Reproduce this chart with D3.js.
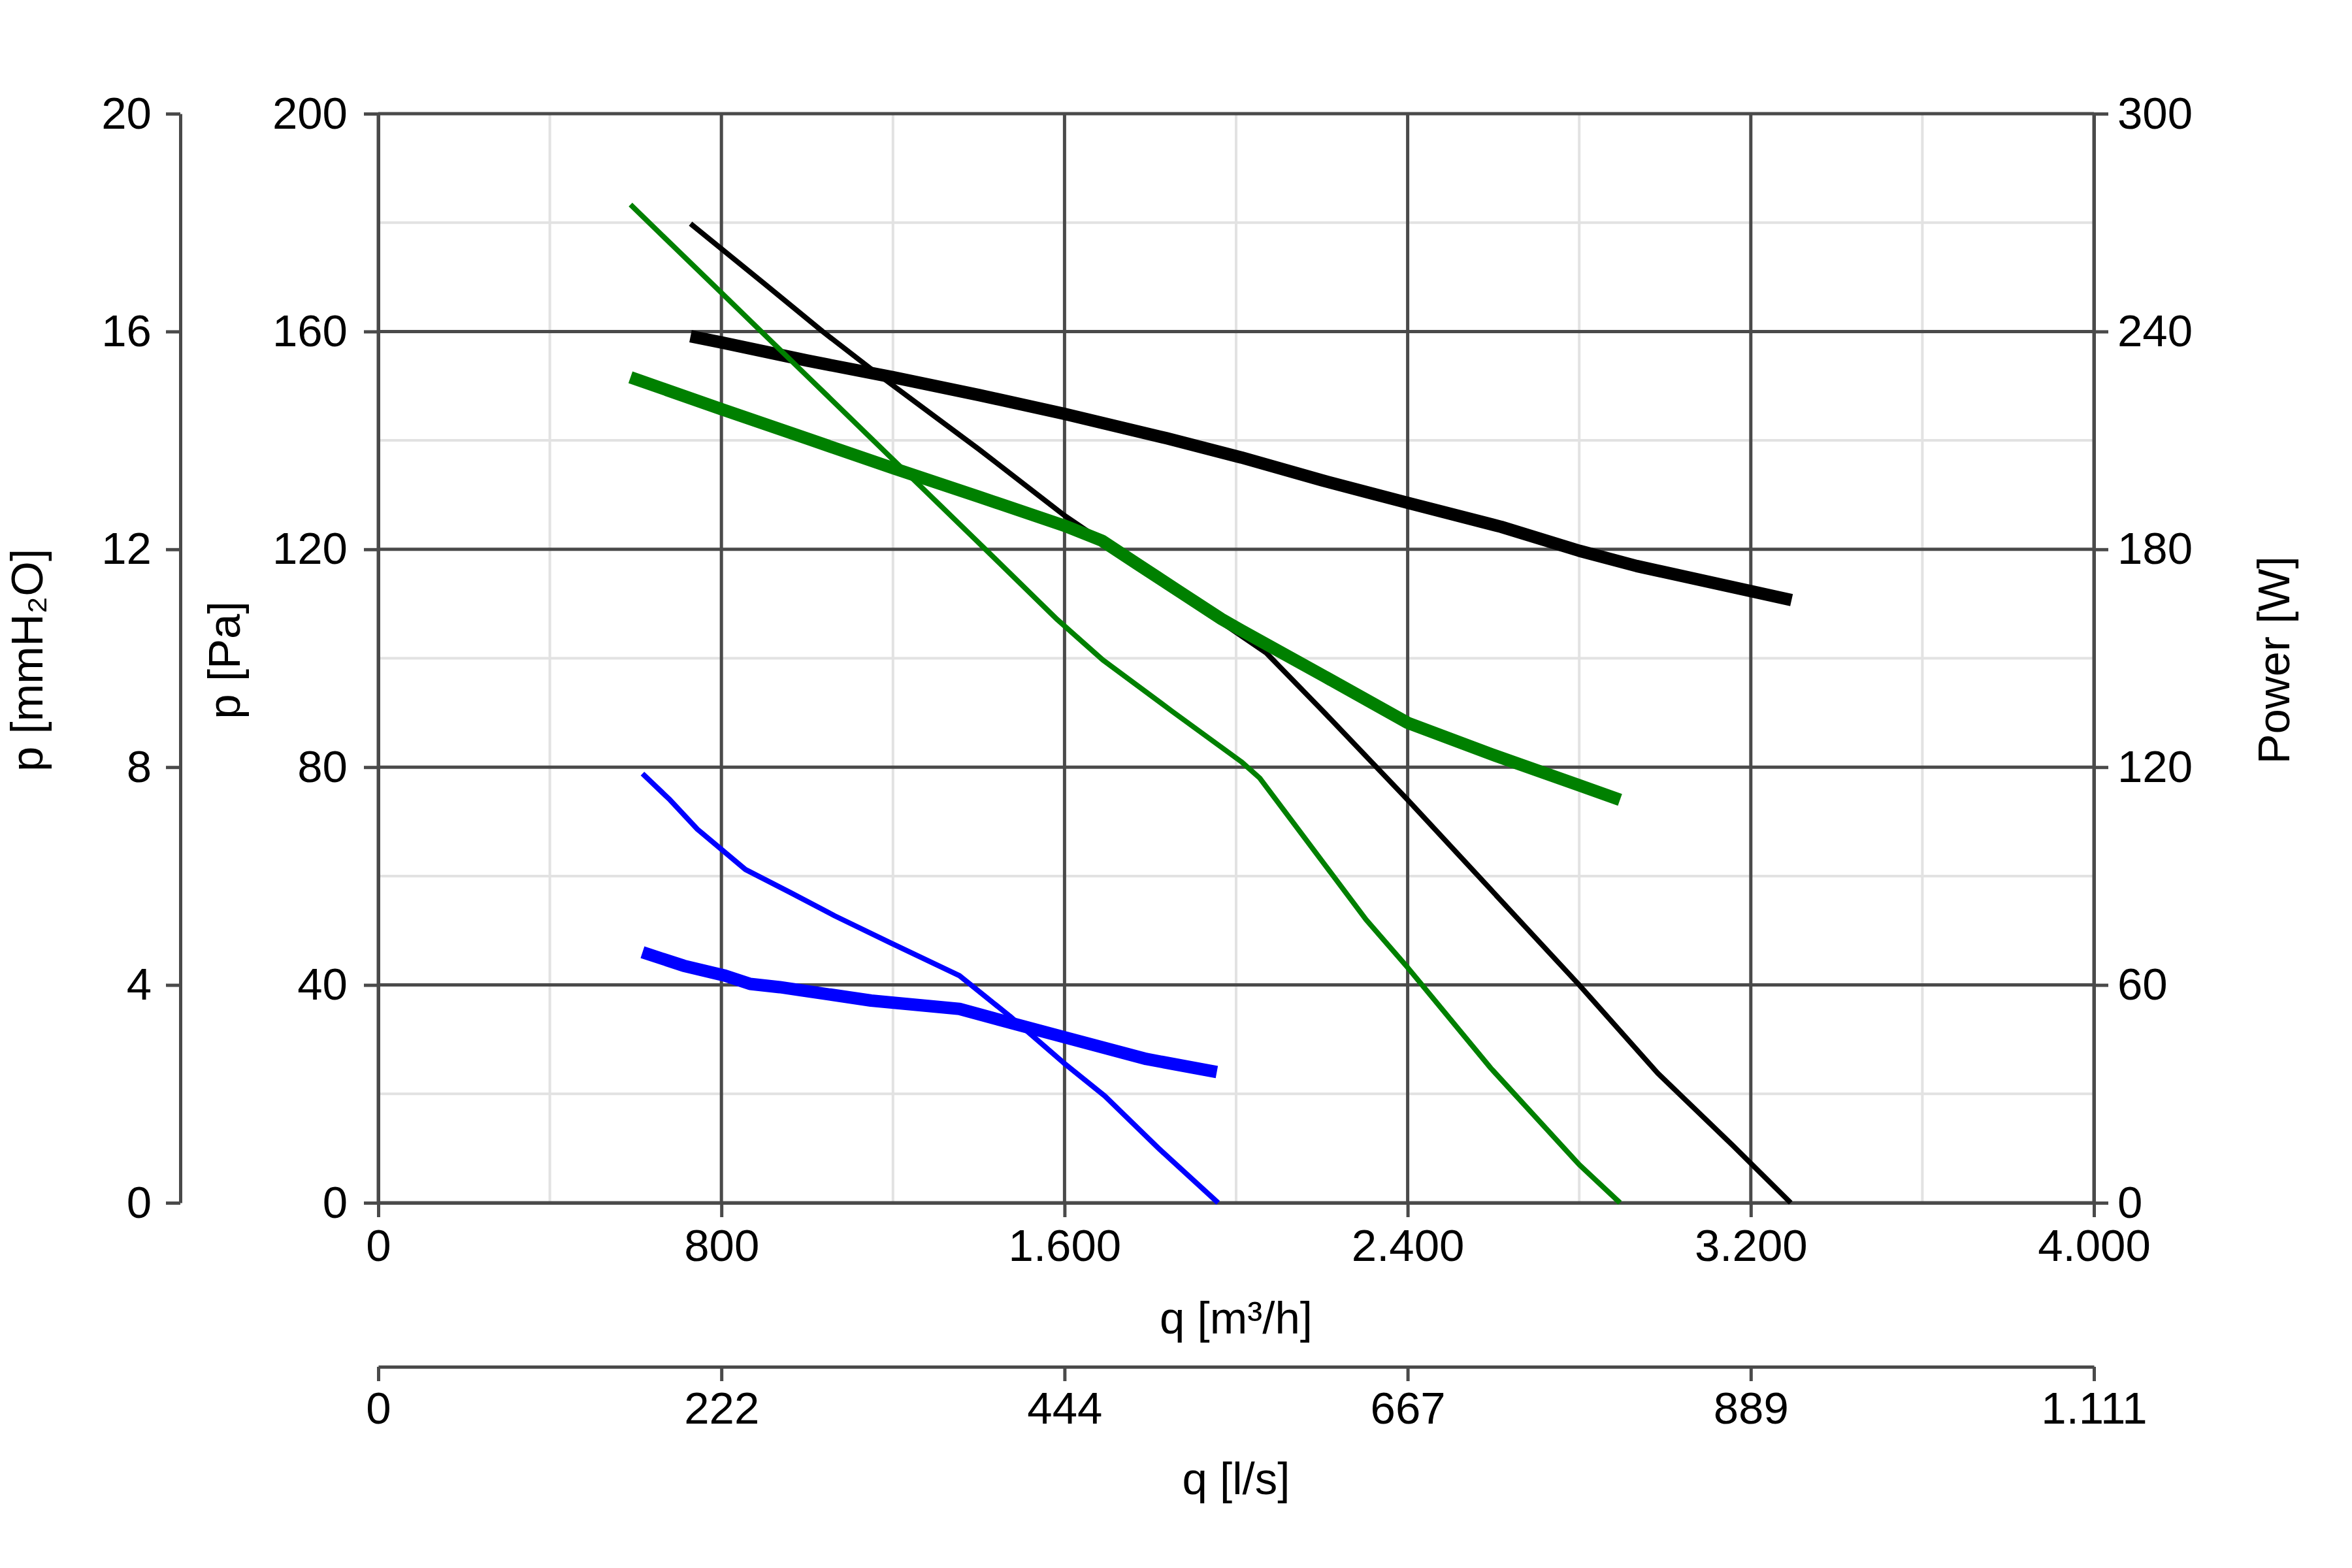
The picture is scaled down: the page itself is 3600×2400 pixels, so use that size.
<!DOCTYPE html>
<html>
<head>
<meta charset="utf-8">
<script src="https://cdn.jsdelivr.net/npm/d3@7"></script>
<style>
  html, body { margin: 0; padding: 0; background: #fff; }
  svg { display: block; }
  text { font-family: "Liberation Sans", Arial, "DejaVu Sans", sans-serif; fill: #000; }
</style>
</head>
<body>
<svg id="chart" width="3600" height="2400"></svg>
<script>
// ---------------- data ----------------
const qTicks   = [0, 800, 1600, 2400, 3200, 4000];          // m³/h
const qMinor   = [400, 1200, 2000, 2800, 3600];
const paTicks  = [0, 40, 80, 120, 160, 200];                // Pa
const paMinor  = [20, 60, 100, 140, 180];
const wTicks   = [0, 60, 120, 180, 240, 300];               // W
const mmTicks  = [0, 4, 8, 12, 16, 20];                     // mmH2O
const lsTicks  = [0, 222.22, 444.44, 666.67, 888.89, 1111.11]; // l/s

// pressure curves [q m³/h, p Pa]
const blackPressure = [[728,179.8],[900,168.8],[1036,160],[1164,152.2],[1400,138.4],[1600,126.2],[1800,115.5],[2070,101],[2200,90.5],[2400,74],[2600,57],[2800,40],[2983,23.8],[3157,10.6],[3293,0]];
const greenPressure = [[588,183.3],[800,167.1],[1000,151.8],[1200,136.5],[1400,121.2],[1583,107.1],[1689,99.7],[1850,90.3],[2012,81],[2055,78],[2303,52],[2400,43.2],[2594,24.7],[2800,7],[2895,0]];
const bluePressure  = [[616,78.8],[680,74],[744,68.6],[856,61.2],[960,57],[1064,52.7],[1195,47.7],[1355,41.7],[1472,34.3],[1598,25.7],[1694,19.6],[1822,9.8],[1958,0]];

// power curves [q m³/h, P W]
const blackPower = [[728,238.7],[800,237],[1000,232],[1200,227.4],[1400,222.5],[1600,217.3],[1838,210.6],[2012,205.3],[2200,199],[2400,192.8],[2618,186.2],[2800,179.6],[2934,175.4],[3200,168.5],[3295,166]];
const greenPower = [[588,227.4],[800,218.6],[1000,210.5],[1199,202.4],[1400,194.5],[1600,186.5],[1687,182.4],[1769,176],[1870,168.2],[1966,160.8],[2012,157.7],[2206,145],[2400,132.2],[2594,123.6],[2800,115],[2895,111]];
const bluePower  = [[616,69],[712,65.3],[808,62.6],[867,60.3],[936,59.4],[1149,55.7],[1355,53.4],[1483,49.3],[1600,45.6],[1791,39.6],[1955,36]];

// ---------------- layout ----------------
const L = 579, R = 3205, T = 174, B = 1841;
const FS = 69;
const TICK = 22;
const MAJOR = "#4a4a4a", MINOR = "#e2e2e2";

const svg = d3.select("#chart");

const x   = d3.scaleLinear().domain([0, 4000]).range([L, R]);
const xLs = d3.scaleLinear().domain([0, 4000 / 3.6]).range([L, R]);
const yPa = d3.scaleLinear().domain([0, 200]).range([B, T]);
const yW  = d3.scaleLinear().domain([0, 300]).range([B, T]);
const yMm = d3.scaleLinear().domain([0, 20]).range([B, T]);

const loc = d3.formatLocale({decimal: ",", thousands: ".", grouping: [3], currency: ["", "€"]});
const fmt = loc.format(",.0f");

// ---------------- grid ----------------
const grid = svg.append("g");
grid.selectAll(".vminor").data(qMinor).join("line")
  .attr("x1", d => x(d)).attr("x2", d => x(d)).attr("y1", T).attr("y2", B)
  .attr("stroke", MINOR).attr("stroke-width", 4);
grid.selectAll(".hminor").data(paMinor).join("line")
  .attr("x1", L).attr("x2", R).attr("y1", d => yPa(d)).attr("y2", d => yPa(d))
  .attr("stroke", MINOR).attr("stroke-width", 4);
grid.selectAll(".vmajor").data(qTicks).join("line")
  .attr("x1", d => x(d)).attr("x2", d => x(d)).attr("y1", T).attr("y2", B)
  .attr("stroke", MAJOR).attr("stroke-width", 5);
grid.selectAll(".hmajor").data(paTicks).join("line")
  .attr("x1", L).attr("x2", R).attr("y1", d => yPa(d)).attr("y2", d => yPa(d))
  .attr("stroke", MAJOR).attr("stroke-width", 5);

// ---------------- axes ----------------
function styleAxis(g) {
  g.selectAll("path.domain").attr("stroke", MAJOR).attr("stroke-width", 5);
  g.selectAll(".tick line").attr("stroke", MAJOR).attr("stroke-width", 5);
  g.selectAll(".tick text").attr("font-size", FS).attr("fill", "#000")
    .attr("font-family", '"Liberation Sans", Arial, sans-serif');
}

const axPa = svg.append("g").attr("transform", `translate(${L},0)`)
  .call(d3.axisLeft(yPa).tickValues(paTicks).tickSize(TICK).tickSizeOuter(0).tickPadding(25).tickFormat(fmt));
styleAxis(axPa);

const axW = svg.append("g").attr("transform", `translate(${R},0)`)
  .call(d3.axisRight(yW).tickValues(wTicks).tickSize(TICK).tickSizeOuter(0).tickPadding(14).tickFormat(fmt));
styleAxis(axW);

const axMm = svg.append("g").attr("transform", `translate(276,0)`)
  .call(d3.axisLeft(yMm).tickValues(mmTicks).tickSize(TICK).tickSizeOuter(0).tickPadding(22).tickFormat(fmt));
styleAxis(axMm);

const axQ = svg.append("g").attr("transform", `translate(0,${B})`)
  .call(d3.axisBottom(x).tickValues(qTicks).tickSize(TICK).tickSizeOuter(0).tickPadding(18).tickFormat(fmt));
styleAxis(axQ);

const axLs = svg.append("g").attr("transform", `translate(0,2092)`)
  .call(d3.axisBottom(xLs).tickValues(lsTicks).tickSize(TICK).tickSizeOuter(0).tickPadding(16).tickFormat(fmt));
styleAxis(axLs);

// ---------------- curves ----------------
const linePa = d3.line().x(d => x(d[0])).y(d => yPa(d[1]));
const lineW  = d3.line().x(d => x(d[0])).y(d => yW(d[1]));

const curves = [
  {data: blackPressure, gen: linePa, color: "#000000", w: 8},
  {data: blackPower,    gen: lineW,  color: "#000000", w: 19},
  {data: greenPressure, gen: linePa, color: "#008000", w: 8},
  {data: greenPower,    gen: lineW,  color: "#008000", w: 19},
  {data: bluePressure,  gen: linePa, color: "#0000ff", w: 8},
  {data: bluePower,     gen: lineW,  color: "#0000ff", w: 19}
];
svg.append("g").selectAll("path").data(curves).join("path")
  .attr("d", d => d.gen(d.data))
  .attr("fill", "none")
  .attr("stroke", d => d.color)
  .attr("stroke-width", d => d.w)
  .attr("stroke-linejoin", "round")
  .attr("stroke-linecap", "butt");

// ---------------- titles ----------------
const cy = (T + B) / 2 + 3;
svg.append("text").attr("transform", `translate(65,${cy}) rotate(-90)`)
  .attr("text-anchor", "middle").attr("font-size", FS).text("p [mmH₂O]");
svg.append("text").attr("transform", `translate(367,${cy}) rotate(-90)`)
  .attr("text-anchor", "middle").attr("font-size", FS).text("p [Pa]");
svg.append("text").attr("transform", `translate(3504,${cy}) rotate(-90)`)
  .attr("text-anchor", "middle").attr("font-size", FS).text("Power [W]");
svg.append("text").attr("x", (L + R) / 2).attr("y", 2041)
  .attr("text-anchor", "middle").attr("font-size", FS).text("q [m³/h]");
svg.append("text").attr("x", (L + R) / 2).attr("y", 2287)
  .attr("text-anchor", "middle").attr("font-size", FS).text("q [l/s]");
</script>
</body>
</html>
